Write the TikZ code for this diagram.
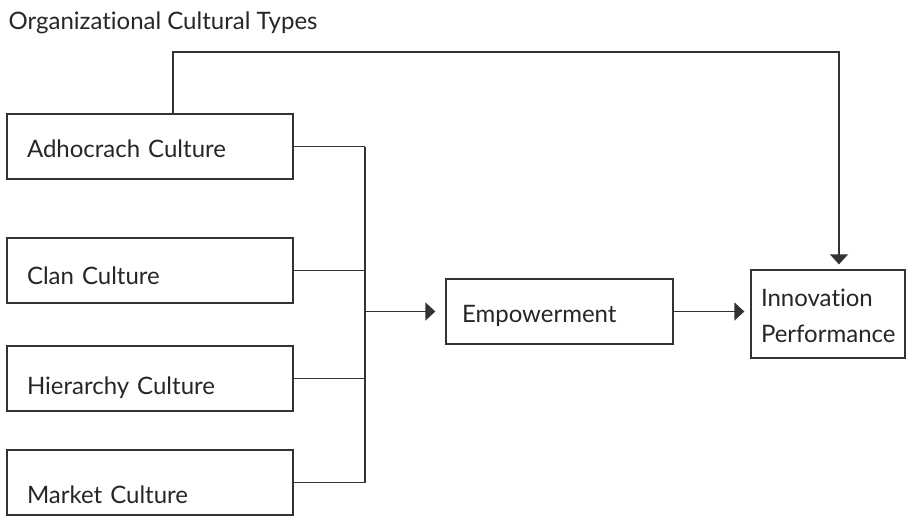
\documentclass[tikz,border=0pt]{standalone}
\usepackage{fontspec}
\setmainfont{Lato}[Ligatures=NoCommon]
\usepackage{tikz}
\usetikzlibrary{arrows.meta}

\begin{document}
\begin{tikzpicture}[x=0.5pt,y=-0.5pt,
    >={Triangle[length=5pt,width=9pt]},
    line width=0.65pt,
    font=\fontsize{12}{18}\selectfont,
    box/.style={draw=black!80,rectangle,inner xsep=0pt,align=left,text=black!85},
    culture/.style={box,minimum width=143pt,minimum height=32.5pt,
                    text width=123pt,text depth=0pt,text height=#1},
    link/.style={draw=black!80}]
\useasboundingbox (0,0) rectangle (907,516);

\node[anchor=base west,inner sep=0pt,text=black!85] (title) at (8,29) {Organizational Cultural Types};

\node[culture=10.5pt] (adho) at (150,146.5) {Adhocrach Culture};
\node[culture=13.5pt] (clan) at (150,270.5) {Clan Culture};
\node[culture=15.5pt] (hier) at (150,378.5) {Hierarchy Culture};
\node[culture=20.5pt] (mark) at (150,482.5) {Market Culture};
\node[box,minimum width=113.5pt,minimum height=32.5pt,text width=97.5pt,
      text depth=0pt,text height=10.5pt] (emp) at (559.5,311.5) {Empowerment};
\node[box,minimum width=77pt,minimum height=44pt,text width=67pt,
      text height=10.5pt,text depth=18pt,inner ysep=0pt] (inno) at (828,314) {Innovation\\Performance};

\coordinate (busT) at (365,146.5);
\coordinate (busB) at (365,482.5);
\coordinate (topL) at (173,52);
\coordinate (topR) at (839,52);

% cultures into the bus
\foreach \n in {adho,clan,hier,mark}
    \draw[link] (\n.east) -- (\n.east -| busT);
\draw[link] (busT) -- (busB);
\draw [link,->,shorten >=5pt] (busT |- emp.west) -- (emp.west);
\draw [link,->,shorten >=3pt] (emp.east) -- (emp.east -| inno.west);

% direct path
\draw [link,->,shorten >=2.5pt] (adho.north -| topL) -- (topL) -- (topR) -- (topR |- inno.north);
\end{tikzpicture}
\end{document}
